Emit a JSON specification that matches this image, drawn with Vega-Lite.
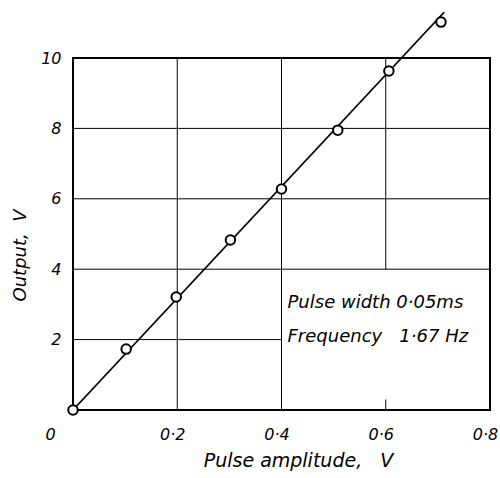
{
  "$schema": "https://vega.github.io/schema/vega-lite/v6.json",
  "width": 417,
  "height": 352,
  "autosize": "none",
  "padding": {"left": 73, "top": 58, "right": 10, "bottom": 68},
  "background": "white",
  "config": {"view": {"stroke": "black", "strokeWidth": 2}, "font": "DejaVu Sans"},
  "datasets": {
    "points": [
      {"x": 0.0, "y": 0.0},
      {"x": 0.102, "y": 1.73},
      {"x": 0.198, "y": 3.21},
      {"x": 0.302, "y": 4.83},
      {"x": 0.4, "y": 6.28},
      {"x": 0.508, "y": 7.95},
      {"x": 0.606, "y": 9.63},
      {"x": 0.706, "y": 11.02}
    ],
    "fit": [
      {"x": 0.0, "y": 0.0},
      {"x": 0.712, "y": 11.3}
    ],
    "grid": [
      {"x": 0.2, "x2": 0.2, "y": 0, "y2": 10},
      {"x": 0.4, "x2": 0.4, "y": 0, "y2": 10},
      {"x": 0.6, "x2": 0.6, "y": 4, "y2": 10},
      {"x": 0.6, "x2": 0.6, "y": 0, "y2": 0.3},
      {"x": 0, "x2": 0.4, "y": 2, "y2": 2},
      {"x": 0, "x2": 0.8, "y": 4, "y2": 4},
      {"x": 0, "x2": 0.8, "y": 6, "y2": 6},
      {"x": 0, "x2": 0.8, "y": 8, "y2": 8}
    ],
    "notes": [
      {"x": 0.4, "y": 3.05, "label": "Pulse width 0·05ms"},
      {"x": 0.4, "y": 2.08, "label": "Frequency\u00a0\u00a0\u00a01·67 Hz"}
    ]
  },
  "encoding": {
    "x": {
      "field": "x",
      "type": "quantitative",
      "scale": {"domain": [0, 0.8], "nice": false, "zero": false},
      "axis": {
        "values": [0, 0.2, 0.4, 0.6, 0.8],
        "labelExpr": "datum.value == 0 ? '0' : replace(format(datum.value, '.1f'), '.', '·')",
        "ticks": false,
        "domain": false,
        "grid": false,
        "labelFlush": false,
        "labelFont": "DejaVu Sans",
        "labelFontSize": 16,
        "labelFontStyle": "italic",
        "labelColor": "black",
        "labelPadding": 16,
        "labelOffset": {"condition": {"test": "datum.value == 0", "value": -23}, "value": -5},
        "title": "Pulse amplitude,\u00a0\u00a0\u00a0V",
        "titleFont": "DejaVu Sans",
        "titleFontSize": 19,
        "titleFontStyle": "italic",
        "titleFontWeight": "normal",
        "titleColor": "black",
        "titleX": 225,
        "titleY": 50,
        "titleBaseline": "middle"
      }
    },
    "y": {
      "field": "y",
      "type": "quantitative",
      "scale": {"domain": [0, 10], "nice": false, "zero": false},
      "axis": {
        "values": [2, 4, 6, 8, 10],
        "ticks": false,
        "domain": false,
        "grid": false,
        "labelFont": "DejaVu Sans",
        "labelFontSize": 16,
        "labelFontStyle": "italic",
        "labelColor": "black",
        "labelPadding": 12,
        "title": "Output,\u00a0\u00a0V",
        "titleFont": "DejaVu Sans",
        "titleFontSize": 18,
        "titleFontStyle": "italic",
        "titleFontWeight": "normal",
        "titleColor": "black",
        "titleX": -53,
        "titleY": 197,
        "titleBaseline": "middle"
      }
    }
  },
  "layer": [
    {
      "data": {"name": "grid"},
      "mark": {"type": "rule", "color": "black", "strokeWidth": 1},
      "encoding": {"x2": {"field": "x2"}, "y2": {"field": "y2"}}
    },
    {
      "data": {"name": "fit"},
      "mark": {"type": "line", "color": "black", "strokeWidth": 1.8}
    },
    {
      "data": {"name": "points"},
      "mark": {"type": "point", "shape": "circle", "filled": true, "fill": "white", "stroke": "black", "strokeWidth": 2, "size": 90, "opacity": 1}
    },
    {
      "data": {"name": "notes"},
      "mark": {"type": "text", "align": "left", "baseline": "middle", "dx": 6, "fontSize": 18, "fontStyle": "italic", "font": "DejaVu Sans", "color": "black"},
      "encoding": {"text": {"field": "label"}}
    }
  ]
}
